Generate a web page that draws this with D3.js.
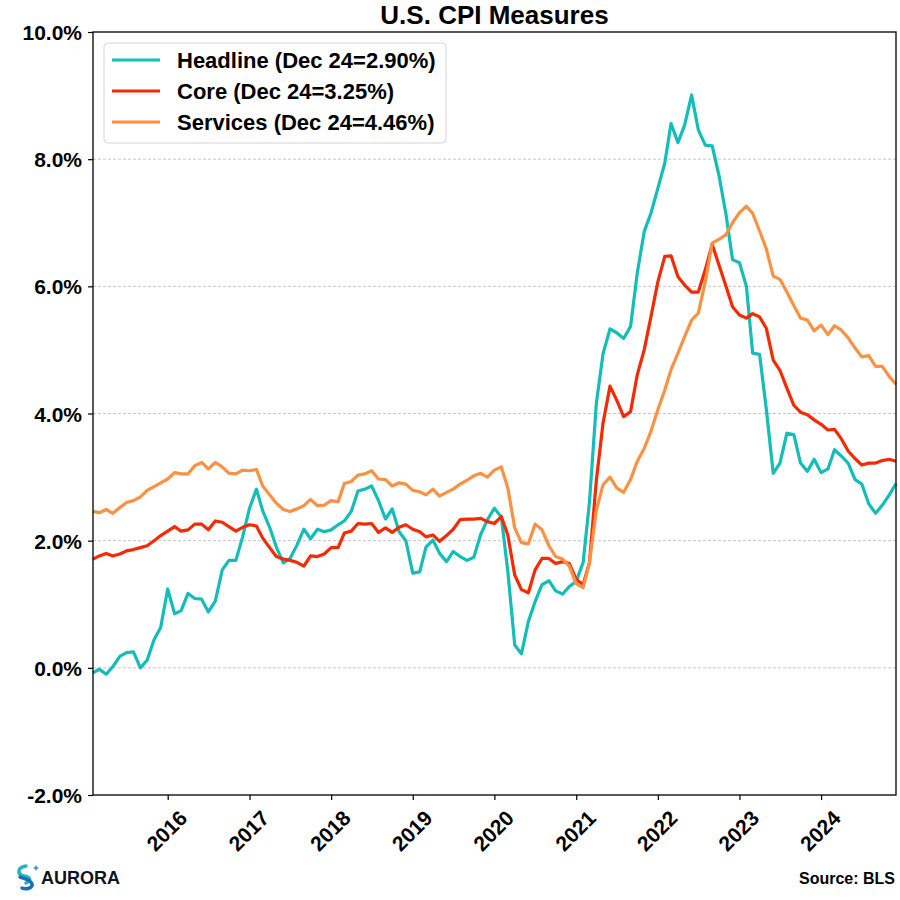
<!DOCTYPE html>
<html>
<head>
<meta charset="utf-8">
<script src="https://cdn.jsdelivr.net/npm/d3@7"></script>
<style>
    body { margin: 0; background: #fff; }
    svg text { font-family: "Liberation Sans", Arial, sans-serif; font-weight: bold; fill: #000; }
</style>
</head>
<body>
<div id="chart"></div>
<script>
// Primer mes de la serie (Feb 2015), mensual hasta Dic 2024
const startMonth = new Date(2015, 1, 1);

// Variación interanual (%)
const headline = [
    -0.08, -0.02, -0.10, 0.02, 0.18, 0.24, 0.25, 0.00, 0.12, 0.44, 0.64, 1.24,
    0.85, 0.90, 1.17, 1.09, 1.08, 0.88, 1.05, 1.54, 1.69, 1.69, 2.06, 2.51,
    2.81, 2.47, 2.21, 1.90, 1.65, 1.72, 1.93, 2.18, 2.03, 2.18, 2.14, 2.17,
    2.25, 2.31, 2.46, 2.78, 2.81, 2.86, 2.63, 2.34, 2.50, 2.14, 2.00, 1.49,
    1.51, 1.90, 2.01, 1.80, 1.67, 1.83, 1.75, 1.69, 1.74, 2.10, 2.33, 2.51,
    2.37, 1.52, 0.36, 0.22, 0.73, 1.04, 1.31, 1.37, 1.21, 1.16, 1.28, 1.36,
    1.66, 2.60, 4.16, 4.94, 5.33, 5.27, 5.18, 5.37, 6.21, 6.86, 7.15, 7.54,
    7.94, 8.56, 8.26, 8.54, 9.01, 8.46, 8.22, 8.21, 7.75, 7.15, 6.42, 6.37,
    6.00, 4.95, 4.93, 4.07, 3.06, 3.22, 3.69, 3.67, 3.22, 3.09, 3.28, 3.07,
    3.13, 3.43, 3.33, 3.22, 2.96, 2.89, 2.58, 2.43, 2.56, 2.72, 2.90
];
const core = [
    1.71, 1.76, 1.80, 1.76, 1.79, 1.84, 1.86, 1.89, 1.92, 2.00, 2.08, 2.15,
    2.22, 2.15, 2.17, 2.26, 2.26, 2.17, 2.31, 2.29, 2.22, 2.15, 2.21, 2.25,
    2.23, 2.04, 1.89, 1.75, 1.71, 1.69, 1.66, 1.60, 1.76, 1.75, 1.79, 1.89,
    1.89, 2.12, 2.15, 2.27, 2.26, 2.27, 2.13, 2.20, 2.13, 2.21, 2.25, 2.18,
    2.14, 2.06, 2.09, 1.99, 2.08, 2.18, 2.33, 2.34, 2.34, 2.35, 2.30, 2.27,
    2.38, 2.09, 1.46, 1.23, 1.18, 1.54, 1.72, 1.72, 1.64, 1.67, 1.64, 1.39,
    1.31, 1.65, 2.95, 3.85, 4.43, 4.21, 3.95, 4.03, 4.61, 5.00, 5.52, 6.07,
    6.47, 6.48, 6.15, 6.02, 5.91, 5.91, 6.26, 6.66, 6.34, 6.01, 5.68, 5.55,
    5.50, 5.57, 5.52, 5.34, 4.84, 4.68, 4.40, 4.13, 4.02, 3.98, 3.90, 3.83,
    3.74, 3.75, 3.60, 3.41, 3.29, 3.19, 3.22, 3.22, 3.26, 3.28, 3.25
];
const services = [
    2.46, 2.44, 2.49, 2.43, 2.52, 2.60, 2.63, 2.69, 2.79, 2.85, 2.91, 2.97,
    3.07, 3.05, 3.05, 3.18, 3.23, 3.13, 3.23, 3.16, 3.06, 3.05, 3.11, 3.10,
    3.12, 2.86, 2.72, 2.59, 2.49, 2.46, 2.50, 2.55, 2.65, 2.55, 2.56, 2.63,
    2.61, 2.90, 2.93, 3.03, 3.05, 3.10, 2.97, 2.96, 2.86, 2.91, 2.89, 2.79,
    2.77, 2.72, 2.81, 2.70, 2.76, 2.81, 2.89, 2.95, 3.02, 3.06, 3.00, 3.11,
    3.16, 2.83, 2.20, 1.97, 1.95, 2.26, 2.17, 1.92, 1.75, 1.71, 1.60, 1.32,
    1.26, 1.65, 2.48, 2.88, 3.00, 2.83, 2.76, 2.96, 3.25, 3.45, 3.72, 4.06,
    4.37, 4.69, 4.95, 5.21, 5.47, 5.58, 6.07, 6.68, 6.74, 6.81, 7.00, 7.16,
    7.26, 7.15, 6.87, 6.59, 6.16, 6.11, 5.91, 5.70, 5.50, 5.47, 5.30, 5.39,
    5.24, 5.38, 5.31, 5.19, 5.03, 4.89, 4.91, 4.74, 4.74, 4.58, 4.46
];

const seriesNames = ["Headline (Dec 24=2.90%)", "Core (Dec 24=3.25%)", "Services (Dec 24=4.46%)"];
const seriesColors = ["#13bdb9", "#f52a00", "#fb9142"];
const yTicks = [-2, 0, 2, 4, 6, 8, 10];
const yearTicks = [2016, 2017, 2018, 2019, 2020, 2021, 2022, 2023, 2024];

const width = 900, height = 900;
const margin = { top: 32, right: 4, bottom: 105, left: 93 };

const dates = headline.map((_, i) => d3.timeMonth.offset(startMonth, i));

const svg = d3.select("#chart").append("svg")
    .attr("width", width)
    .attr("height", height);

const x = d3.scaleTime()
    .domain([dates[0], dates[dates.length - 1]])
    .range([margin.left, width - margin.right]);

const y = d3.scaleLinear()
    .domain([-2, 10])
    .range([height - margin.bottom, margin.top]);

// Rejilla horizontal
svg.append("g")
    .selectAll("line")
    .data(yTicks.slice(1, -1))
    .enter().append("line")
    .attr("x1", margin.left).attr("x2", width - margin.right)
    .attr("y1", d => y(d)).attr("y2", d => y(d))
    .attr("stroke", "#b8b8b8")
    .attr("stroke-width", 0.8)
    .attr("stroke-dasharray", "3,2");

// Eje Y
const yAxis = svg.append("g")
    .attr("transform", `translate(${margin.left},0)`)
    .call(d3.axisLeft(y).tickValues(yTicks).tickFormat(d => d.toFixed(1) + "%").tickSize(5).tickPadding(6));
yAxis.select(".domain").remove();
yAxis.selectAll("line").attr("stroke", "#000").attr("stroke-width", 1.2);
yAxis.selectAll("text").style("font-size", "21px").attr("dy", "0.36em");

// Eje X
const xAxis = svg.append("g")
    .attr("transform", `translate(0,${height - margin.bottom})`)
    .call(d3.axisBottom(x).tickValues(yearTicks.map(yr => new Date(yr, 0, 1))).tickFormat(d3.timeFormat("%Y")).tickSize(5));
xAxis.select(".domain").remove();
xAxis.selectAll("line").attr("stroke", "#000").attr("stroke-width", 1.2);
xAxis.selectAll("text")
    .style("font-size", "21px")
    .attr("text-anchor", "middle")
    .attr("dy", null)
    .attr("y", 0)
    .attr("transform", "translate(0,37) rotate(-45)")
    .attr("dominant-baseline", "middle");

// Líneas de las series
const allSeries = [headline, core, services];
const line = d3.line()
    .x((d, i) => x(dates[i]))
    .y(d => y(d));

svg.append("g")
    .selectAll("path")
    .data(allSeries)
    .enter().append("path")
    .attr("fill", "none")
    .attr("stroke", (d, i) => seriesColors[i])
    .attr("stroke-width", 3.2)
    .attr("stroke-linejoin", "round")
    .attr("d", line);

// Marco
svg.append("rect")
    .attr("x", margin.left).attr("y", margin.top)
    .attr("width", width - margin.left - margin.right)
    .attr("height", height - margin.top - margin.bottom)
    .attr("fill", "none")
    .attr("stroke", "#000")
    .attr("stroke-width", 1.3);

// Título
svg.append("text")
    .attr("x", (margin.left + width - margin.right) / 2)
    .attr("y", 24)
    .attr("text-anchor", "middle")
    .style("font-size", "26px")
    .text("U.S. CPI Measures");

// Leyenda
const legend = svg.append("g");
legend.append("rect")
    .attr("x", 104).attr("y", 43)
    .attr("width", 342).attr("height", 100)
    .attr("rx", 4)
    .attr("fill", "#fff")
    .attr("fill-opacity", 0.85)
    .attr("stroke", "#d6d6d6");
seriesNames.forEach((name, i) => {
    const ly = 60 + i * 31;
    legend.append("line")
        .attr("x1", 112).attr("x2", 160)
        .attr("y1", ly).attr("y2", ly)
        .attr("stroke", seriesColors[i])
        .attr("stroke-width", 3.2);
    legend.append("text")
        .attr("x", 177).attr("y", ly + 7.5)
        .style("font-size", "22px")
        .text(name);
});

// Fuente
svg.append("text")
    .attr("x", 895).attr("y", 884)
    .attr("text-anchor", "end")
    .style("font-size", "16px")
    .text("Source: BLS");

// Logo
const logo = svg.append("g").attr("transform", "translate(16,864)");
logo.append("path")
    .attr("d", "M10,2 C2,3 0,10 8,12 C14,13 16,16 10,19")
    .attr("fill", "none").attr("stroke", "#1fb7c4").attr("stroke-width", 3.5).attr("stroke-linecap", "round");
logo.append("path")
    .attr("d", "M4,13 C8,15 14,15 16,20 C17,24 10,26 6,24")
    .attr("fill", "none").attr("stroke", "#1c6fb5").attr("stroke-width", 3.5).attr("stroke-linecap", "round");
logo.append("path")
    .attr("d", "M20,1 l1,2 l2,1 l-2,1 l-1,2 l-1,-2 l-2,-1 l2,-1 z")
    .attr("fill", "#3a8fd0");
svg.append("text")
    .attr("x", 41).attr("y", 884)
    .style("font-size", "18px")
    .style("fill", "#111322")
    .text("AURORA");
</script>
</body>
</html>
